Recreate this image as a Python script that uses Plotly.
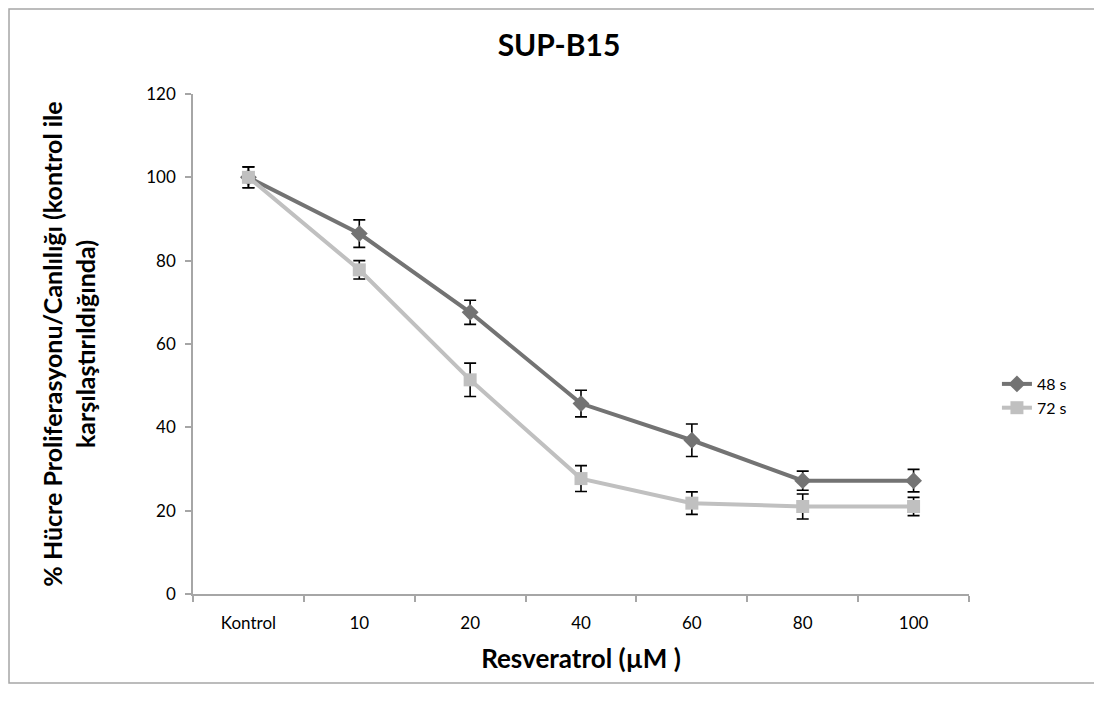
import plotly.graph_objects as go

categories = ["Kontrol", "10", "20", "40", "60", "80", "100"]

vals_48 = [100, 86.5, 67.6, 45.7, 36.9, 27.2, 27.2]
err_48 = [2.5, 3.3, 2.9, 3.2, 3.9, 2.3, 2.7]

vals_72 = [100, 77.8, 51.4, 27.7, 21.8, 21.0, 21.0]
err_72 = [2.5, 2.2, 4.0, 3.1, 2.7, 3.0, 2.2]

FONT = "Lato, Carlito, Calibri, sans-serif"

fig = go.Figure()

fig.add_trace(go.Scatter(
    x=categories, y=vals_48, name="48 s", mode="lines+markers",
    line=dict(color="#737373", width=4),
    marker=dict(symbol="diamond", size=13, color="#737373"),
    error_y=dict(type="data", array=err_48, color="black", thickness=1.6, width=6),
))
fig.add_trace(go.Scatter(
    x=categories, y=vals_72, name="72 s", mode="lines+markers",
    line=dict(color="#c0c0c0", width=4),
    marker=dict(symbol="square", size=13, color="#c0c0c0"),
    error_y=dict(type="data", array=err_72, color="black", thickness=1.6, width=6),
))

# outer chart border
fig.add_shape(type="rect", xref="paper", yref="paper",
              x0=-0.2371, x1=1.1675, y0=-0.178, y1=1.17,
              line=dict(color="#a6a6a6", width=1.5), layer="below")

# page body has an 8px margin, so everything is shifted up/left by 8
fig.update_layout(
    width=1102, height=704,
    margin=dict(l=185, r=141, t=86, b=118),
    paper_bgcolor="white", plot_bgcolor="white",
    font=dict(family=FONT, size=17, color="black"),
    title=dict(text="<b>SUP-B15</b>", x=0.5, xanchor="center",
               y=0.947, yanchor="middle", font=dict(size=30)),
    legend=dict(x=1.036, y=0.396, xanchor="left", yanchor="middle",
                font=dict(size=16), bgcolor="rgba(0,0,0,0)",
                tracegroupgap=0, itemwidth=30),
    showlegend=True,
)

fig.update_xaxes(
    type="category", tickson="boundaries",
    showline=True, linecolor="#a6a6a6", linewidth=1.5,
    ticks="outside", ticklen=6, tickcolor="#a6a6a6", tickwidth=1.5,
    ticklabelstandoff=13,
    showgrid=False, zeroline=False, range=[-0.5, 6.5],
    title=dict(text="<b>Resveratrol (µM )</b>", font=dict(size=26), standoff=18),
)
fig.update_yaxes(
    range=[0, 120], dtick=20,
    showline=True, linecolor="#a6a6a6", linewidth=1.5,
    ticks="outside", ticklen=6, tickcolor="#a6a6a6", tickwidth=1.5,
    ticklabelstandoff=6,
    showgrid=False, zeroline=False,
    title=dict(text="<b>% Hücre Proliferasyonu/Canlılığı (kontrol ile<br>karşılaştırıldığında)</b>",
               font=dict(size=25), standoff=44),
)

fig.write_html("out.html")
